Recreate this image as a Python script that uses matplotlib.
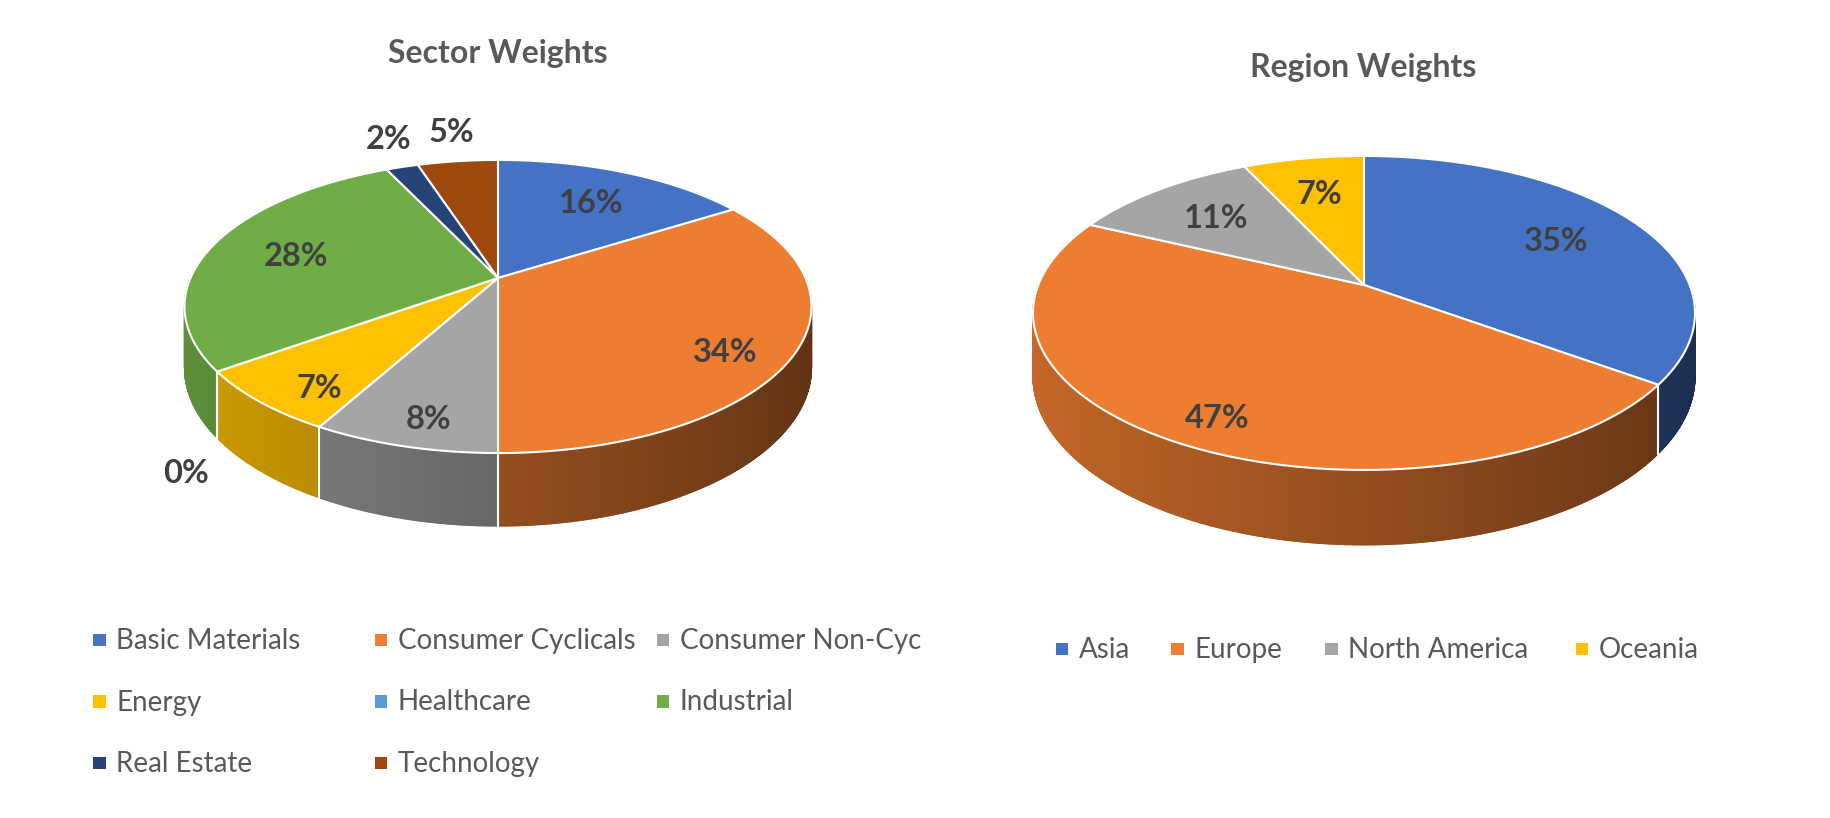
import numpy as np
import matplotlib
matplotlib.use('Agg')
import matplotlib.pyplot as plt
from matplotlib.patches import Polygon, Rectangle
from matplotlib.collections import PolyCollection
from matplotlib.colors import to_rgb

plt.rcParams['font.family'] = ['Lato', 'DejaVu Sans']

# datos de los dos graficos
sectores = ['Basic Materials', 'Consumer Cyclicals', 'Consumer Non-Cyc', 'Energy',
            'Healthcare', 'Industrial', 'Real Estate', 'Technology']
pesos_sector = [16, 34, 8, 7, 0, 28, 2, 5]
colores_sector = ['#4472C4', '#ED7D31', '#A5A5A5', '#FFC000',
                  '#5B9BD5', '#70AD47', '#264478', '#9E480E']

regiones = ['Asia', 'Europe', 'North America', 'Oceania']
pesos_region = [35, 47, 11, 7]
colores_region = ['#4472C4', '#ED7D31', '#A5A5A5', '#FFC000']

# geometria de cada pastel (pixeles): centro, radios, perspectiva y grosor
geo_sector = dict(cx=498, cy=278, a=307.5, b=141, k=0.1945, h=73)
geo_region = dict(cx=1364, cy=285, a=325.7, b=152, k=0.178, h=75)


def proyectar(u, v, g):
    den = 1 + g['k'] * v
    return g['cx'] + g['a'] * u / den, g['cy'] - g['b'] * v / den


def profundidad(v, g):
    return g['h'] * (1 - g['k']) / (1 + g['k'] * v)


def dibujar_pie(ax, valores, colores, g):
    total = sum(valores)
    bordes = np.concatenate([[0], np.cumsum(valores)]) / total * 2 * np.pi

    # paredes laterales con sombreado
    polys, caras, orden = [], [], []
    for i in range(len(valores)):
        t0, t1 = bordes[i], bordes[i + 1]
        if t1 - t0 <= 0:
            continue
        ts = np.linspace(t0, t1, max(2, int((t1 - t0) / 0.004) + 1))
        for a, b in zip(ts[:-1], ts[1:]):
            m = (a + b) / 2
            if np.cos(m) > 0.02:
                continue
            x0, y0 = proyectar(np.sin(a), np.cos(a), g)
            x1, y1 = proyectar(np.sin(b), np.cos(b), g)
            d0 = profundidad(np.cos(a), g)
            d1 = profundidad(np.cos(b), g)
            polys.append([(x0, y0), (x1, y1), (x1, y1 + d1), (x0, y0 + d0)])
            s = 0.62 - 0.22 * np.sin(m)
            caras.append(np.clip(np.array(to_rgb(colores[i])) * s, 0, 1))
            orden.append(np.cos(m))
    idx = np.argsort(orden)[::-1]
    polys = [polys[j] for j in idx]
    caras = [caras[j] for j in idx]
    ax.add_collection(PolyCollection(polys, facecolors=caras, edgecolors=caras,
                                     linewidths=0.8, zorder=1))

    # lineas blancas entre porciones en la pared
    for t in bordes[:-1]:
        if np.cos(t) < -g['k']:
            x, y = proyectar(np.sin(t), np.cos(t), g)
            ax.plot([x, x], [y, y + profundidad(np.cos(t), g)], color='white', lw=1.5, zorder=2)

    # cara superior
    for i in range(len(valores)):
        t0, t1 = bordes[i], bordes[i + 1]
        if t1 - t0 <= 0:
            continue
        ts = np.linspace(t0, t1, max(2, int((t1 - t0) / 0.01) + 1))
        xs, ys = proyectar(np.sin(ts), np.cos(ts), g)
        pts = [(g['cx'], g['cy'])] + list(zip(xs, ys))
        ax.add_patch(Polygon(pts, closed=True, facecolor=colores[i], edgecolor='white',
                             lw=1.5, joinstyle='round', zorder=3))

    # etiquetas de porcentaje
    for i, val in enumerate(valores):
        pct = round(100 * val / total)
        m = (bordes[i] + bordes[i + 1]) / 2
        u, v = np.sin(m), np.cos(m)
        if pct <= 5:
            x, y = proyectar(u, v, g)
            if v < 0:
                y += profundidad(v, g)
            x += 38 * u
            y += -32 * v + (14 if v < 0 else 0)
        elif v >= 0:
            x, y = proyectar(0.7 * u, 0.7 * v, g)
        else:
            x, y = proyectar(0.78 * u, 0.78 * v, g)
            y += 0.2 * g['h']
        ax.text(x, y + 12, f'{pct}%', ha='center', va='baseline', fontsize=23.5,
                fontweight='bold', color='#404040', zorder=5)


def dibujar_leyenda(ax, nombres, colores, xs, ys):
    for nombre, color, x, y in zip(nombres, colores, xs, ys):
        ax.add_patch(Rectangle((x - 6.3, y - 6.3), 12.6, 12.6, facecolor=color,
                               edgecolor='none', zorder=4))
        ax.text(x + 17, y + 9, nombre, ha='left', va='baseline', fontsize=20,
                color='#595959', zorder=4)


fig = plt.figure(figsize=(18.31, 8.18), dpi=100)
ax = fig.add_axes([0, 0, 1, 1])
ax.set_xlim(0, 1831)
ax.set_ylim(818, 0)
ax.axis('off')

dibujar_pie(ax, pesos_sector, colores_sector, geo_sector)
dibujar_pie(ax, pesos_region, colores_region, geo_region)

ax.text(498, 63, 'Sector Weights', ha='center', va='baseline', fontsize=23,
        fontweight='bold', color='#595959')
ax.text(1363, 77, 'Region Weights', ha='center', va='baseline', fontsize=23,
        fontweight='bold', color='#595959')

# leyendas: la de sectores en tres columnas, la de regiones en una fila
col_x = [99.5, 381, 663]
fila_y = [640, 701.5, 763]
dibujar_leyenda(ax, sectores, colores_sector,
                [col_x[i % 3] for i in range(len(sectores))],
                [fila_y[i // 3] for i in range(len(sectores))])
dibujar_leyenda(ax, regiones, colores_region,
                [1062, 1177.5, 1331.5, 1582], [649] * len(regiones))

fig.savefig('out.png', dpi=100, facecolor='white')
